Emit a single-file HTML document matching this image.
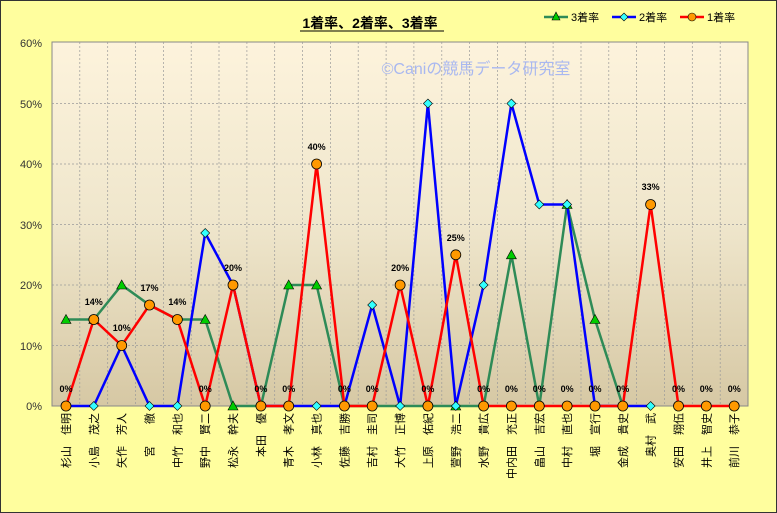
<!DOCTYPE html>
<html><head><meta charset="utf-8"><style>
html,body{margin:0;padding:0;background:#fff;}
svg{display:block;font-family:"Liberation Sans","Noto Sans CJK JP",sans-serif;}
</style></head><body>
<svg width="777" height="513" viewBox="0 0 777 513" xmlns="http://www.w3.org/2000/svg">
<defs>
<linearGradient id="pg" x1="0" y1="0" x2="0" y2="1">
<stop offset="0" stop-color="#FDF3DC"/><stop offset="0.5" stop-color="#EFE6CC"/><stop offset="1" stop-color="#D6C8A4"/>
</linearGradient>
</defs>
<rect x="0.5" y="0.5" width="776" height="512" fill="#FFFE9E" stroke="#333" stroke-width="1"/>
<text x="370" y="28" font-size="14" font-weight="bold" text-anchor="middle" fill="#000">1着率、2着率、3着率</text>
<line x1="300" y1="31" x2="444" y2="31" stroke="#000" stroke-width="1"/>
<!-- legend -->
<g font-size="11" fill="#000">
<line x1="544" y1="17" x2="568" y2="17" stroke="#2E8B57" stroke-width="2.5"/><polygon points="556,12 560,20 552,20" fill="#00CC00" stroke="#000" stroke-width="0.6"/><text x="571" y="21">3着率</text>
<line x1="612" y1="17" x2="636" y2="17" stroke="#0000FF" stroke-width="2.5"/><polygon points="624,13 628,17 624,21 620,17" fill="#33FFFF" stroke="#000" stroke-width="0.6"/><text x="639" y="21">2着率</text>
<line x1="680" y1="17" x2="704" y2="17" stroke="#FF0000" stroke-width="2.5"/><circle cx="692" cy="17" r="4" fill="#FF9900" stroke="#000" stroke-width="0.6"/><text x="707" y="21">1着率</text>
</g>
<rect x="52" y="42" width="696" height="364" fill="url(#pg)" stroke="#888" stroke-width="1"/>
<g stroke="#9a9a9a" stroke-width="0.7" stroke-dasharray="2,2">
<line x1="52" y1="345.5" x2="748" y2="345.5"/><line x1="52" y1="285" x2="748" y2="285"/><line x1="52" y1="224.5" x2="748" y2="224.5"/><line x1="52" y1="164" x2="748" y2="164"/><line x1="52" y1="103.5" x2="748" y2="103.5"/>
<line x1="79.8" y1="42" x2="79.8" y2="406"/><line x1="107.7" y1="42" x2="107.7" y2="406"/><line x1="135.5" y1="42" x2="135.5" y2="406"/><line x1="163.4" y1="42" x2="163.4" y2="406"/><line x1="191.2" y1="42" x2="191.2" y2="406"/><line x1="219" y1="42" x2="219" y2="406"/><line x1="246.9" y1="42" x2="246.9" y2="406"/><line x1="274.7" y1="42" x2="274.7" y2="406"/><line x1="302.6" y1="42" x2="302.6" y2="406"/><line x1="330.4" y1="42" x2="330.4" y2="406"/><line x1="358.2" y1="42" x2="358.2" y2="406"/><line x1="386.1" y1="42" x2="386.1" y2="406"/><line x1="413.9" y1="42" x2="413.9" y2="406"/><line x1="441.8" y1="42" x2="441.8" y2="406"/><line x1="469.6" y1="42" x2="469.6" y2="406"/><line x1="497.4" y1="42" x2="497.4" y2="406"/><line x1="525.3" y1="42" x2="525.3" y2="406"/><line x1="553.1" y1="42" x2="553.1" y2="406"/><line x1="581" y1="42" x2="581" y2="406"/><line x1="608.8" y1="42" x2="608.8" y2="406"/><line x1="636.6" y1="42" x2="636.6" y2="406"/><line x1="664.5" y1="42" x2="664.5" y2="406"/><line x1="692.3" y1="42" x2="692.3" y2="406"/><line x1="720.2" y1="42" x2="720.2" y2="406"/>
</g>
<g font-size="11" fill="#333" text-anchor="end">
<text x="42" y="410">0%</text><text x="42" y="350">10%</text><text x="42" y="289">20%</text><text x="42" y="229">30%</text><text x="42" y="168">40%</text><text x="42" y="108">50%</text><text x="42" y="47">60%</text>
</g>
<text x="476" y="74" font-size="16" fill="#A9B8F0" text-anchor="middle">©Caniの競馬データ研究室</text>
<polyline fill="none" stroke="#2E8B57" stroke-width="2.5" points="66,319.5 93.8,319.5 121.7,285 149.5,305 177.4,319.5 205.2,319.5 233,406 260.9,406 288.7,285 316.6,285 344.4,406 372.2,406 400.1,406 427.9,406 455.8,406 483.6,406 511.4,254.8 539.3,406 567.1,204.5 595,319.5 622.8,406"/>
<polyline fill="none" stroke="#0000FF" stroke-width="2.5" points="66,406 93.8,406 121.7,345.5 149.5,406 177.4,406 205.2,233 233,285 260.9,406 288.7,406 316.6,406 344.4,406 372.2,305 400.1,406 427.9,103.5 455.8,406 483.6,285 511.4,103.5 539.3,204.5 567.1,204.5 595,406 622.8,406 650.6,406"/>
<polyline fill="none" stroke="#FF0000" stroke-width="2.5" points="66,406 93.8,319.5 121.7,345.5 149.5,305 177.4,319.5 205.2,406 233,285 260.9,406 288.7,406 316.6,164 344.4,406 372.2,406 400.1,285 427.9,406 455.8,254.8 483.6,406 511.4,406 539.3,406 567.1,406 595,406 622.8,406 650.6,204.5 678.5,406 706.3,406 734.2,406"/>
<g fill="#00CC00" stroke="#000" stroke-width="0.6">
<polygon points="66,314.5 71,323.5 61,323.5"/><polygon points="93.8,314.5 98.8,323.5 88.8,323.5"/><polygon points="121.7,280 126.7,289 116.7,289"/><polygon points="205.2,314.5 210.2,323.5 200.2,323.5"/><polygon points="233,401 238,410 228,410"/><polygon points="288.7,280 293.7,289 283.7,289"/><polygon points="316.6,280 321.6,289 311.6,289"/><polygon points="455.8,401 460.8,410 450.8,410"/><polygon points="511.4,249.8 516.4,258.8 506.4,258.8"/><polygon points="567.1,199.5 572.1,208.5 562.1,208.5"/><polygon points="595,314.5 600,323.5 590,323.5"/>
</g>
<g fill="#33FFFF" stroke="#000" stroke-width="0.6">
<polygon points="93.8,401.5 98.3,406 93.8,410.5 89.3,406"/><polygon points="149.5,401.5 154,406 149.5,410.5 145,406"/><polygon points="177.4,401.5 181.9,406 177.4,410.5 172.9,406"/><polygon points="205.2,228.5 209.7,233 205.2,237.5 200.7,233"/><polygon points="316.6,401.5 321.1,406 316.6,410.5 312.1,406"/><polygon points="372.2,300.5 376.7,305 372.2,309.5 367.7,305"/><polygon points="400.1,401.5 404.6,406 400.1,410.5 395.6,406"/><polygon points="427.9,99 432.4,103.5 427.9,108 423.4,103.5"/><polygon points="455.8,401.5 460.3,406 455.8,410.5 451.3,406"/><polygon points="483.6,280.5 488.1,285 483.6,289.5 479.1,285"/><polygon points="511.4,99 515.9,103.5 511.4,108 506.9,103.5"/><polygon points="539.3,200 543.8,204.5 539.3,209 534.8,204.5"/><polygon points="567.1,200 571.6,204.5 567.1,209 562.6,204.5"/><polygon points="650.6,401.5 655.1,406 650.6,410.5 646.1,406"/>
</g>
<g fill="#FF9900" stroke="#000" stroke-width="0.8">
<circle cx="66" cy="406" r="5"/><circle cx="93.8" cy="319.5" r="5"/><circle cx="121.7" cy="345.5" r="5"/><circle cx="149.5" cy="305" r="5"/><circle cx="177.4" cy="319.5" r="5"/><circle cx="205.2" cy="406" r="5"/><circle cx="233" cy="285" r="5"/><circle cx="260.9" cy="406" r="5"/><circle cx="288.7" cy="406" r="5"/><circle cx="316.6" cy="164" r="5"/><circle cx="344.4" cy="406" r="5"/><circle cx="372.2" cy="406" r="5"/><circle cx="400.1" cy="285" r="5"/><circle cx="427.9" cy="406" r="5"/><circle cx="455.8" cy="254.8" r="5"/><circle cx="483.6" cy="406" r="5"/><circle cx="511.4" cy="406" r="5"/><circle cx="539.3" cy="406" r="5"/><circle cx="567.1" cy="406" r="5"/><circle cx="595" cy="406" r="5"/><circle cx="622.8" cy="406" r="5"/><circle cx="650.6" cy="204.5" r="5"/><circle cx="678.5" cy="406" r="5"/><circle cx="706.3" cy="406" r="5"/><circle cx="734.2" cy="406" r="5"/>
</g>
<g font-size="9" font-weight="bold" fill="#000" text-anchor="middle">
<text x="66" y="392">0%</text><text x="93.8" y="305">14%</text><text x="121.7" y="331">10%</text><text x="149.5" y="291">17%</text><text x="177.4" y="305">14%</text><text x="205.2" y="392">0%</text><text x="233" y="271">20%</text><text x="260.9" y="392">0%</text><text x="288.7" y="392">0%</text><text x="316.6" y="150">40%</text><text x="344.4" y="392">0%</text><text x="372.2" y="392">0%</text><text x="400.1" y="271">20%</text><text x="427.9" y="392">0%</text><text x="455.8" y="241">25%</text><text x="483.6" y="392">0%</text><text x="511.4" y="392">0%</text><text x="539.3" y="392">0%</text><text x="567.1" y="392">0%</text><text x="595" y="392">0%</text><text x="622.8" y="392">0%</text><text x="650.6" y="190">33%</text><text x="678.5" y="392">0%</text><text x="706.3" y="392">0%</text><text x="734.2" y="392">0%</text>
</g>
<g font-size="11" fill="#000" text-anchor="end">
<text transform="translate(70,413) rotate(-90)">杉山　佳明</text>
<text transform="translate(97.8,413) rotate(-90)">小島　茂之</text>
<text transform="translate(125.7,413) rotate(-90)">矢作　芳人</text>
<text transform="translate(153.5,413) rotate(-90)">宮　　徹</text>
<text transform="translate(181.4,413) rotate(-90)">中竹　和也</text>
<text transform="translate(209.2,413) rotate(-90)">野中　賢二</text>
<text transform="translate(237,413) rotate(-90)">松永　幹夫</text>
<text transform="translate(264.9,413) rotate(-90)">本田　優</text>
<text transform="translate(292.7,413) rotate(-90)">青木　孝文</text>
<text transform="translate(320.6,413) rotate(-90)">小林　真也</text>
<text transform="translate(348.4,413) rotate(-90)">佐藤　吉勝</text>
<text transform="translate(376.2,413) rotate(-90)">吉村　圭司</text>
<text transform="translate(404.1,413) rotate(-90)">大竹　正博</text>
<text transform="translate(431.9,413) rotate(-90)">上原　佑紀</text>
<text transform="translate(459.8,413) rotate(-90)">萱野　浩二</text>
<text transform="translate(487.6,413) rotate(-90)">水野　貴広</text>
<text transform="translate(515.4,413) rotate(-90)">中内田　充正</text>
<text transform="translate(543.3,413) rotate(-90)">畠山　吉宏</text>
<text transform="translate(571.1,413) rotate(-90)">中村　直也</text>
<text transform="translate(599,413) rotate(-90)">堀　宣行</text>
<text transform="translate(626.8,413) rotate(-90)">金成　貴史</text>
<text transform="translate(654.6,413) rotate(-90)">奥村　武</text>
<text transform="translate(682.5,413) rotate(-90)">安田　翔伍</text>
<text transform="translate(710.3,413) rotate(-90)">井上　智史</text>
<text transform="translate(738.2,413) rotate(-90)">前川　恭子</text>
</g>
</svg>
</body></html>
